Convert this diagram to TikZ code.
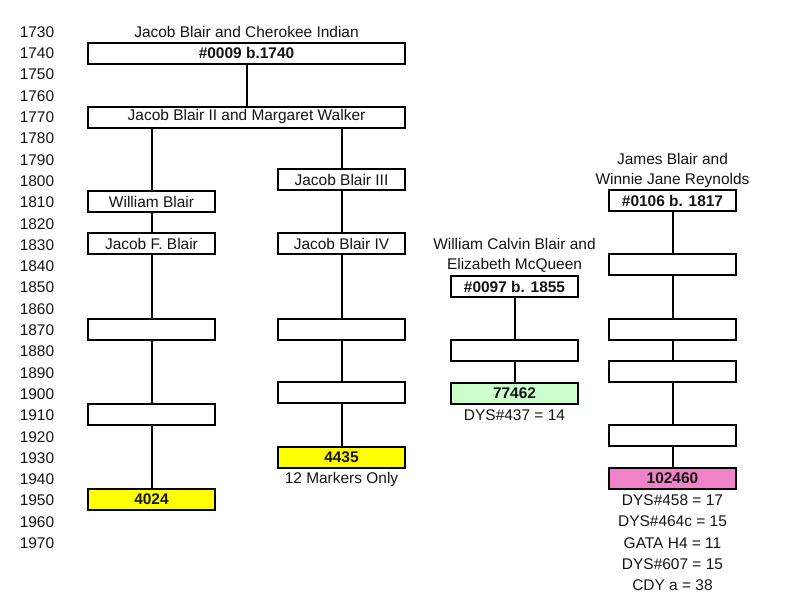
\documentclass[tikz,border=0pt]{standalone}
\usepackage{fontspec}
\setmainfont{Liberation Sans}
\definecolor{txt}{RGB}{20,20,20}
\definecolor{ybox}{RGB}{255,255,0}
\definecolor{gbox}{RGB}{204,255,204}
\definecolor{pbox}{RGB}{240,130,200}
\tikzset{
  box/.style={draw=black, line width=1.5pt, fill=white, minimum width=95.25pt, minimum height=15.75pt, inner sep=0pt, font=\fontsize{11.6pt}{13pt}\selectfont, text=txt},
  widebox/.style={box, minimum width=237.75pt},
  lbl/.style={inner sep=0pt, font=\fontsize{11.6pt}{13pt}\selectfont, text=txt},
  yr/.style={lbl},
  link/.style={line width=1.5pt, draw=black},
}
\begin{document}
\begin{tikzpicture}[x=0.75pt, y=-0.75pt]
\useasboundingbox (0,0) rectangle (800,614);
% year labels
\foreach \i in {0,...,24} {
  \pgfmathtruncatemacro{\yr}{1730+10*\i}
  \node[yr] (y\yr) at (37, 32+21.3*\i) {\yr};
}
% top
\node[lbl] (t1) at (246.5, 32) {Jacob Blair and Cherokee Indian};
\node[widebox] (b0009) at (246.5, 53) {\textbf{\#0009 b.1740}};
\node[widebox] (jb2) at (246.5, 117) {Jacob Blair II and Margaret Walker};
% left column
\node[box] (wb) at (151.5, 201.5) {William Blair};
\node[box] (jfb) at (151.5, 243.5) {Jacob F. Blair};
\node[box] (l1870) at (151.5, 329) {};
\node[box] (l1910) at (151.5, 414) {};
\node[box, fill=ybox] (k4024) at (151.5, 499.5) {\textbf{4024}};
% middle column
\node[box] (jb3) at (341.5, 179.5) {Jacob Blair III};
\node[box] (jb4) at (341.5, 243.5) {Jacob Blair IV};
\node[box] (m1870) at (341.5, 329) {};
\node[box] (m1900) at (341.5, 392.5) {};
\node[box, fill=ybox] (k4435) at (341.5, 457) {\textbf{4435}};
\node[lbl] (n4435) at (341.5, 479.5) {12 Markers Only};
% William Calvin Blair column
\node[lbl] (wc1) at (514.5, 244) {William Calvin Blair and};
\node[lbl] (wc2) at (514.5, 265.5) {Elizabeth McQueen};
\node[box] (b0097) at (514.5, 286.5) {\textbf{\#0097 b. 1855}};
\node[box] (w1880) at (514.5, 350) {};
\node[box, fill=gbox] (k77462) at (514.5, 393) {\textbf{77462}};
\node[lbl] (n77462) at (514.5, 415) {DYS\#437 = 14};
% James Blair column
\node[lbl] (jw1) at (672.5, 158.5) {James Blair and};
\node[lbl] (jw2) at (672.5, 180) {Winnie Jane Reynolds};
\node[box] (b0106) at (672.5, 200.5) {\textbf{\#0106 b. 1817}};
\node[box] (r1840) at (672.5, 264.5) {};
\node[box] (r1870) at (672.5, 329) {};
\node[box] (r1890) at (672.5, 371.5) {};
\node[box] (r1920) at (672.5, 435) {};
\node[box, fill=pbox] (k102460) at (672.5, 478.5) {\textbf{102460}};
\node[lbl] (p1) at (672.5, 500.5) {DYS\#458 = 17};
\node[lbl] (p2) at (672.5, 521.5) {DYS\#464c = 15};
\node[lbl] (p3) at (672.5, 543) {GATA H4 = 11};
\node[lbl] (p4) at (672.5, 564) {DYS\#607 = 15};
\node[lbl] (p5) at (672.5, 585) {CDY a = 38};
% connectors
\draw[link] (b0009) -- (jb2);
\draw[link] (jb2.south -| wb) -- (wb);
\draw[link] (jb2.south -| jb3) -- (jb3);
\draw[link] (wb) -- (jfb);
\draw[link] (jfb) -- (l1870);
\draw[link] (l1870) -- (l1910);
\draw[link] (l1910) -- (k4024);
\draw[link] (jb3) -- (jb4);
\draw[link] (jb4) -- (m1870);
\draw[link] (m1870) -- (m1900);
\draw[link] (m1900) -- (k4435);
\draw[link] (b0097) -- (w1880);
\draw[link] (w1880) -- (k77462);
\draw[link] (b0106) -- (r1840);
\draw[link] (r1840) -- (r1870);
\draw[link] (r1870) -- (r1890);
\draw[link] (r1890) -- (r1920);
\draw[link] (r1920) -- (k102460);
\end{tikzpicture}
\end{document}
